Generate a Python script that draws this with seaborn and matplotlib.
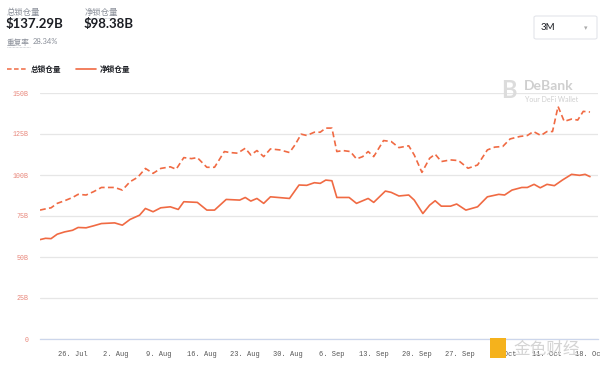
import pandas as pd
import matplotlib.pyplot as plt
import matplotlib.dates as mdates
from matplotlib.lines import Line2D
from matplotlib.patches import FancyBboxPatch, Rectangle
from matplotlib.ticker import FuncFormatter, MultipleLocator
import seaborn as sns

# days counted from 26 Jul 2021, values in billions of USD
total_days = [-5.4, -4.2, -3.6, -2.6, -1.4, -0.1, 0.8, 2.1, 3.3, 4.6, 6.75, 8.0, 9.25, 10.5,
              11.75, 13.0, 14.25, 15.8, 16.75, 18.0, 19.25, 20.2, 21.75, 23.0, 24.6, 25.5,
              26.75, 28.0, 28.9, 29.9, 31.0, 32.1, 33.6, 35.2, 36.1, 37.1, 38.0, 39.25, 40.2,
              41.1, 42.1, 42.9, 43.9, 45.1, 46.1, 47.1, 48.0, 48.9, 50.5, 51.75, 53.0, 54.6,
              55.5, 56.75, 58.0, 58.9, 59.9, 61.4, 62.7, 64.25, 65.8, 67.4, 68.6, 69.9, 71.1,
              72.7, 73.9, 74.9, 76.1, 77.1, 78.0, 78.9, 79.9, 81.1, 82.1, 83.0, 84.1]
total_tvl = [78.6, 79.6, 80.0, 82.7, 84.3, 86.3, 88.2, 87.8, 89.8, 92.4, 92.4, 90.8, 95.9, 98.6,
             104.0, 101.0, 104.0, 105.0, 103.5, 110.6, 110.0, 110.6, 104.7, 104.7, 114.3, 113.7,
             113.3, 116.3, 112.2, 114.9, 111.2, 115.9, 115.3, 113.7, 118.4, 124.9, 124.1, 126.1,
             126.1, 128.6, 128.6, 114.3, 114.9, 114.3, 109.8, 111.2, 114.3, 111.2, 121.0, 120.4,
             116.7, 117.8, 112.2, 101.6, 110.2, 112.7, 108.2, 109.2, 108.8, 104.1, 106.1, 115.3,
             117.0, 117.4, 122.0, 123.5, 124.1, 126.5, 124.1, 126.5, 126.5, 141.8, 132.7, 134.1,
             133.5, 138.8, 138.4]

net_days = [-5.4, -4.5, -3.6, -2.6, -1.4, -0.1, 0.8, 2.1, 3.3, 4.6, 6.75, 8.0, 9.25, 10.8, 11.75,
            13.0, 14.25, 15.8, 17.1, 18.0, 20.2, 21.75, 23.0, 24.9, 27.1, 28.0, 28.9, 29.9, 31.0,
            32.1, 35.2, 36.75, 38.0, 39.25, 40.2, 41.1, 42.1, 42.9, 44.9, 46.1, 48.0, 48.9, 50.8,
            51.75, 53.0, 54.6, 55.5, 56.9, 58.0, 58.9, 59.9, 61.4, 62.4, 63.9, 65.8, 67.4, 69.25,
            70.2, 71.4, 73.0, 73.9, 75.0, 76.0, 77.1, 78.3, 79.6, 81.1, 82.4, 83.3, 84.1]
net_tvl = [60.6, 61.4, 61.2, 63.9, 65.3, 66.3, 68.0, 67.8, 69.0, 70.4, 70.8, 69.4, 72.9, 75.5, 79.6,
           77.6, 80.0, 80.6, 79.0, 83.7, 83.3, 78.6, 78.6, 85.1, 84.7, 86.3, 84.1, 85.7, 82.7,
           86.7, 85.7, 93.9, 93.7, 95.3, 94.9, 96.9, 96.5, 86.3, 86.3, 82.7, 85.7, 83.3, 90.2,
           89.4, 87.2, 87.8, 84.7, 76.5, 81.6, 84.3, 81.0, 81.0, 82.3, 78.6, 80.6, 86.7, 88.2,
           87.8, 90.8, 92.4, 92.4, 94.3, 92.2, 94.3, 93.5, 96.9, 100.4, 99.8, 100.4, 99.0]

series_names = ["总锁仓量", "净锁仓量"]
header_values = ["$137.29B", "$98.38B"]
overlap_label = "重复率"
overlap_value = "28.34%"
period_label = "3M"

LINE = "#f06a43"
base = pd.Timestamp("2021-07-26")

frames = []
for name, days, vals in [(series_names[0], total_days, total_tvl), (series_names[1], net_days, net_tvl)]:
    frames.append(pd.DataFrame({"date": base + pd.to_timedelta(days, unit="D"),
                                "tvl": vals, "series": name}))
df = pd.concat(frames, ignore_index=True)

sns.set_style("white")
plt.rcParams["font.family"] = ["Lato", "Noto Sans CJK SC", "DejaVu Sans"]

fig = plt.figure(figsize=(6, 3.68), dpi=100)
ax = fig.add_axes([40 / 600, 1 - 339 / 368, 558 / 600, 246 / 368])

sns.lineplot(data=df, x="date", y="tvl", hue="series", style="series",
             palette={series_names[0]: LINE, series_names[1]: LINE},
             dashes={series_names[0]: (3.5, 2), series_names[1]: ""},
             linewidth=1.2, legend=False, ax=ax)

ax.set_ylim(0, 150)
ax.set_xlim(base + pd.Timedelta(days=-5.4), base + pd.Timedelta(days=85.4))
ax.yaxis.set_major_locator(MultipleLocator(25))
ax.yaxis.set_major_formatter(FuncFormatter(lambda v, p: "0" if v == 0 else f"{int(v)}B"))
ax.xaxis.set_major_locator(mdates.WeekdayLocator(byweekday=mdates.MO))
ax.xaxis.set_major_formatter(FuncFormatter(lambda v, p: f"{mdates.num2date(v).day}. {mdates.num2date(v):%b}"))
ax.set_xlabel("")
ax.set_ylabel("")

ax.grid(axis="y", color="#e6e6e6", linewidth=0.9)
ax.grid(axis="x", visible=False)
for side in ["top", "right", "left"]:
    ax.spines[side].set_visible(False)
ax.spines["bottom"].set_color("#ccd6eb")
ax.spines["bottom"].set_linewidth(0.9)
ax.tick_params(axis="y", length=0, pad=8, labelsize=4.8, labelcolor="#e8867a")
ax.tick_params(axis="x", length=6, width=0.8, color="#ccd6eb", direction="out", pad=3,
               labelsize=5, labelcolor="#555555")
for lab in ax.get_xticklabels() + ax.get_yticklabels():
    lab.set_family("Liberation Mono")

def px(x, y):
    return x / 600, 1 - y / 368

# header
fig.text(*px(7, 12), series_names[0], fontsize=6, color="#8a8f99", va="center")
fig.text(*px(85, 12), series_names[1], fontsize=6, color="#8a8f99", va="center")
fig.text(*px(6, 24), header_values[0], fontsize=9.5, color="#1c1e24", va="center", weight="bold")
fig.text(*px(84, 24), header_values[1], fontsize=9.5, color="#1c1e24", va="center", weight="bold")
fig.text(*px(7, 42), overlap_label, fontsize=5.5, color="#8a8f99", va="center")
fig.text(*px(33, 42), overlap_value, fontsize=5.5, color="#8a8f99", va="center")
for x0, x1, y in [(7, 37, 18), (85, 115, 18), (7, 30, 47)]:
    fig.add_artist(Line2D([x0 / 600, x1 / 600], [1 - y / 368] * 2, color="#b0b4bc",
                          linewidth=0.5, linestyle=(0, (1, 1))))

# legend
fig.add_artist(Line2D([7 / 600, 26 / 600], [1 - 69 / 368] * 2, color=LINE, linewidth=1.1,
                      linestyle=(0, (3, 1.6))))
fig.text(*px(31, 69), series_names[0], fontsize=5.5, color="#1c1e24", va="center", weight="bold")
fig.add_artist(Line2D([76 / 600, 96 / 600], [1 - 69 / 368] * 2, color=LINE, linewidth=1.2))
fig.text(*px(100, 69), series_names[1], fontsize=5.5, color="#1c1e24", va="center", weight="bold")

# period selector
fig.patches.append(FancyBboxPatch((534 / 600, 1 - 39 / 368), 63 / 600, 23 / 368,
                                  boxstyle="round,pad=0,rounding_size=0.004",
                                  transform=fig.transFigure, facecolor="white",
                                  edgecolor="#e3e5ea", linewidth=0.8))
fig.text(*px(541, 28), period_label, fontsize=7, color="#1c1e24", va="center")
fig.text(*px(586, 28), "▾", fontsize=5, color="#aaaaaa", va="center", ha="center",
         family="DejaVu Sans")

# watermarks
fig.text(*px(509, 90), "B", fontsize=17, color="#dcdcdc", va="center", ha="center", weight="bold")
fig.text(*px(524, 86), "DeBank", fontsize=10, color="#cfcfcf", va="center", weight="bold")
fig.text(*px(525, 99), "Your DeFi Wallet", fontsize=5, color="#cfcfcf", va="center")
fig.patches.append(Rectangle((490 / 600, 1 - 358 / 368), 16 / 600, 20 / 368,
                             transform=fig.transFigure, facecolor="#f5b21c", edgecolor="none"))
fig.text(*px(547, 349), "金色财经", fontsize=12, color="#d4d4d4", va="center", ha="center",
         family=["Noto Sans CJK SC"])

fig.savefig("out.png", dpi=100)
